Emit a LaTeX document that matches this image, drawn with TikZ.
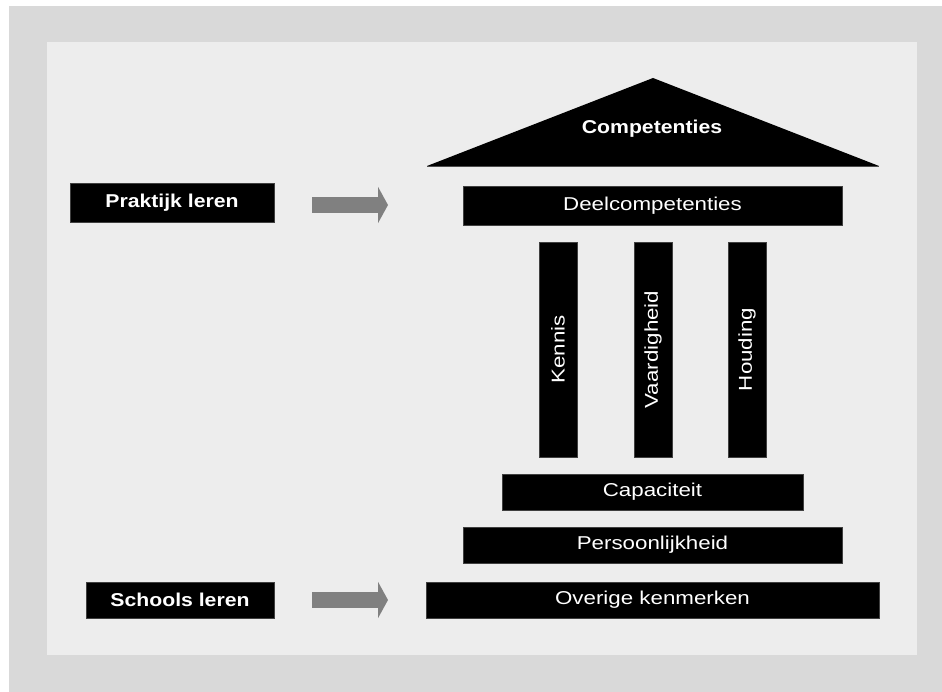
\documentclass[tikz,border=0pt]{standalone}
\usepackage{fontspec}
\setmainfont{Liberation Sans}[FakeStretch=1.2]
\newfontfamily\headfont{Liberation Sans}[FakeStretch=1.14]
\usepackage{tikz}
\usetikzlibrary{arrows.meta, positioning, calc}
\definecolor{framegray}{HTML}{D9D9D9}
\definecolor{panelgray}{HTML}{EDEDED}
\definecolor{arrowgray}{HTML}{808080}
\newcommand{\lblsize}{\fontsize{18.6}{22}\selectfont}

\begin{document}
\begin{tikzpicture}[x=1pt, y=-1pt,
    blockbox/.style={fill=black, draw=black!75, line width=0.5pt, text=white,
        inner sep=0pt, font=\lblsize},
    headbox/.style={blockbox, font=\headfont\bfseries\lblsize},
    pillarbox/.style={blockbox, rotate=90, minimum width=215pt, minimum height=38pt},
    bigarrow/.style={draw=arrowgray, line width=16pt,
        -{Triangle[length=10pt, width=36pt]}}]
    \useasboundingbox (0,0) rectangle (942,692);
    \fill[white] (0,0) rectangle (942,692);
    \fill[framegray] (9,6) rectangle (942,692);
    \fill[panelgray] (47,42) rectangle (917,655);

    % Roof : Competenties
    \fill[black] (427,166) -- (653,78) -- (879,166) -- cycle;
    \draw[black!70, line width=0.5pt] (427,166) -- (879,166);
    \node[text=white, font=\headfont\bfseries\lblsize] (comp) at (652,129) {Competenties};

    % Left side : ways of learning
    \node[headbox, minimum width=204pt, minimum height=39pt] (praktijk) at (172,202.5) {Praktijk leren};
    \node[headbox, minimum width=188pt, minimum height=36pt] (schools) at (180,600) {Schools leren};

    % Temple : beam, pillars and steps
    \node[blockbox, minimum width=379pt, minimum height=39pt] (deel) at (652.5,205.5) {Deelcompetenties};
    \node[pillarbox] (kennis) at (558,349.5) {Kennis};
    \node[pillarbox] (vaardig) at (653,349.5) {Vaardigheid};
    \node[pillarbox] (houding) at (747,349.5) {Houding};
    \node[blockbox, minimum width=301pt, minimum height=36pt] (capac) at (652.5,492) {Capaciteit};
    \node[blockbox, minimum width=379pt, minimum height=36pt] (persoon) at (652.5,545) {Persoonlijkheid};
    \node[blockbox, minimum width=453pt, minimum height=36pt] (overig) at (652.5,600) {Overige kenmerken};

    % --- THE 2 ARROWS ---
    \coordinate (praktijkarr) at (312,205);
    \coordinate (deelarr) at (388,205);
    \coordinate (schoolsarr) at (312,600);
    \coordinate (overigarr) at (388,600);
    \draw[bigarrow] (praktijkarr) -- (deelarr);
    \draw[bigarrow] (schoolsarr) -- (overigarr);
\end{tikzpicture}
\end{document}
